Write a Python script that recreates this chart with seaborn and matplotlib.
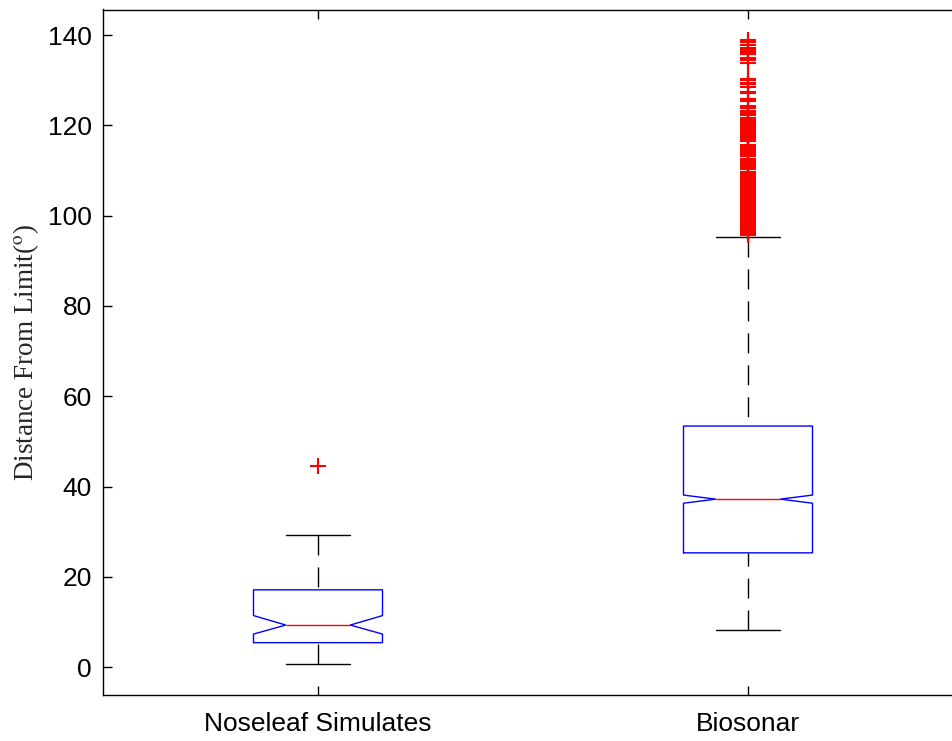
import matplotlib
matplotlib.use("Agg")
import matplotlib.pyplot as plt
import seaborn as sns
import pandas as pd

# ---- data ----
categories = ["Noseleaf Simulates", "Biosonar"]
q1 = [5.4, 25.3]
medians = [9.3, 37.2]
q3 = [17.1, 53.4]
whisker_low = [0.7, 8.2]
whisker_high = [29.3, 95.3]
notch_low = [7.3, 36.3]
notch_high = [11.4, 38.1]
noseleaf_outliers = [44.6]
biosonar_outliers = [
    139.0, 138.5, 137.9, 137.2, 136.7, 136.2, 135.8, 134.9, 134.4, 133.9,
    130.4, 130.0, 129.5, 129.1, 128.6, 127.5, 127.1, 125.8, 125.4,
    124.3, 123.8, 123.2, 122.8, 122.3,
    121.6, 121.3, 121.0, 120.7, 120.4, 120.1, 119.8, 119.5, 119.2, 118.9,
    118.6, 118.3, 118.0, 117.7, 117.4, 117.1, 116.8, 116.5,
    115.7, 115.4, 115.1, 114.8, 114.5, 114.2, 113.9, 113.6, 113.3,
    112.5, 112.2, 111.9, 111.6, 111.3, 111.0, 110.7, 110.4,
    109.7, 109.4, 109.1,
    108.6, 108.3, 108.0, 107.7, 107.4, 107.1, 106.8, 106.5, 106.2, 105.9,
    105.6, 105.3, 105.0, 104.7, 104.4, 104.1, 103.8, 103.5, 103.2, 102.9,
    102.6, 102.3, 102.0, 101.7, 101.4, 101.1, 100.8, 100.5, 100.2, 99.9,
    99.6, 99.3, 99.0, 98.7, 98.4, 98.1, 97.8, 97.5, 97.2, 96.9, 96.6,
    96.3, 96.0, 95.7,
]
yticks = [0, 20, 40, 60, 80, 100, 120, 140]
ylabel = r"Distance From Limit($^{\rm o}$)"

# ---- style ----
sns.set_theme(style="ticks")
plt.rcParams["font.family"] = ["Liberation Sans", "DejaVu Sans"]
plt.rcParams["mathtext.fontset"] = "stix"

W, H = 952, 741
fig = plt.figure(figsize=(W / 100, H / 100), dpi=100)
ax = fig.add_axes([103 / W, 1 - 695 / H, 860 / W, 685.5 / H])

positions = [i + 1 for i in range(len(categories))]
stats = []
for i, c in enumerate(categories):
    stats.append(dict(label=c, q1=q1[i], med=medians[i], q3=q3[i],
                      whislo=whisker_low[i], whishi=whisker_high[i],
                      cilo=notch_low[i], cihi=notch_high[i], fliers=[]))

res = ax.bxp(stats, positions=positions, widths=0.3, capwidths=0.15,
             shownotches=True, showfliers=False,
             boxprops=dict(color="blue", linewidth=1.0),
             medianprops=dict(color="red", linewidth=1.0),
             whiskerprops=dict(color="black", linewidth=1.0, linestyle=(0, (14.4, 8.6))),
             capprops=dict(color="black", linewidth=1.0))
# dash pattern starts at the whisker cap, as in the reference
for w in res["whiskers"]:
    xd, yd = w.get_data()
    w.set_data(list(xd)[::-1], list(yd)[::-1])

fl = pd.DataFrame({
    "pos": [positions[0]] * len(noseleaf_outliers) + [positions[1]] * len(biosonar_outliers),
    "value": noseleaf_outliers + biosonar_outliers,
})
sns.scatterplot(data=fl, x="pos", y="value", marker="+", color="red",
                s=135, linewidth=1.5, ax=ax, legend=False, zorder=3)

ax.set_xlim(0.5, 2.5)
ax.set_ylim(-6.2, 145.7)
ax.set_xticks(positions)
ax.set_xticklabels(categories)
ax.set_yticks(yticks)
ax.set_xlabel("")
ax.set_ylabel(ylabel, family=["Liberation Serif", "DejaVu Serif"], fontsize=19.5, labelpad=5)

for sp in ax.spines.values():
    sp.set_visible(True)
    sp.set_color("black")
    sp.set_linewidth(1.0)
ax.tick_params(direction="in", length=6.5, width=1.0, top=True, right=True,
               labelsize=19, colors="black")
ax.tick_params(axis="y", pad=8)
ax.tick_params(axis="x", pad=12)

fig.savefig("out.png", dpi=100)
